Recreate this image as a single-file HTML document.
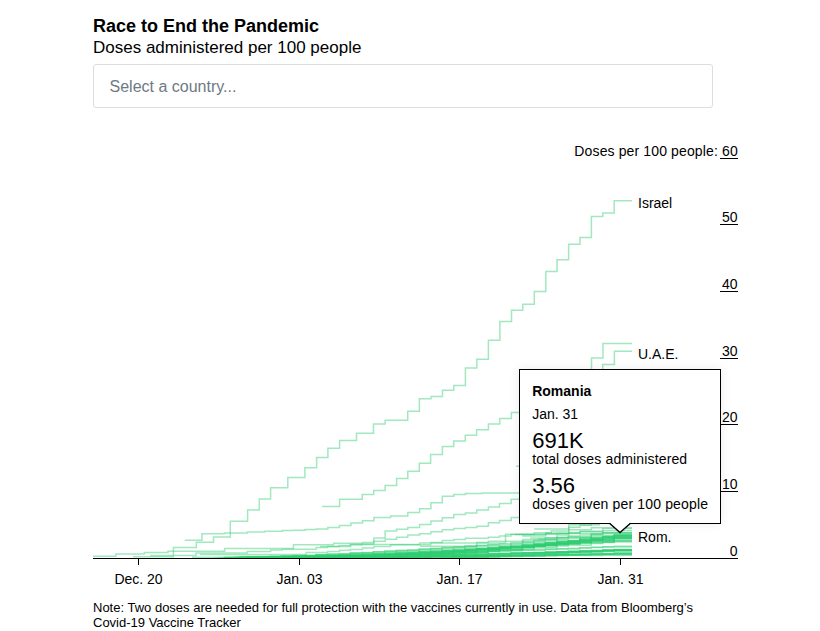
<!DOCTYPE html>
<html><head><meta charset="utf-8">
<style>
html,body{margin:0;padding:0;background:#fff;width:820px;height:631px;overflow:hidden;}
body{font-family:"Liberation Sans",sans-serif;color:#000;position:relative;}
.t{position:absolute;white-space:nowrap;}
#title{left:93px;top:17.3px;font-size:18px;line-height:18px;font-weight:700;}
#sub{left:93px;top:38.6px;font-size:17px;line-height:17px;}
#sel{position:absolute;left:93px;top:64px;width:618px;height:42px;border:1px solid #dcdde2;border-radius:3px;}
#selt{left:109.5px;top:78.5px;font-size:16px;line-height:16px;color:#6d7984;}
.yl{position:absolute;font-size:14px;line-height:14px;white-space:nowrap;text-align:right;right:82.5px;}
.tk{position:absolute;left:720px;width:18px;height:1px;background:#000;}
#axis{position:absolute;left:93px;top:558px;width:645px;height:1px;background:#000;}
.xt{position:absolute;top:558px;width:1px;height:7px;background:#000;}
.xl{position:absolute;top:571.8px;font-size:14px;line-height:14px;width:80px;text-align:center;}
#note{left:93px;top:600.3px;font-size:13px;line-height:15px;}
svg{position:absolute;left:0;top:0;}
#tip{position:absolute;left:519px;top:369px;width:200px;height:153px;border:1px solid #000;background:#fff;box-shadow:0 0 10px rgba(0,0,0,0.08);}
.tp{position:absolute;white-space:nowrap;left:12.2px;}
</style></head><body>
<div class="t" id="title">Race to End the Pandemic</div>
<div class="t" id="sub">Doses administered per 100 people</div>
<div id="sel"></div>
<div class="t" id="selt">Select a country...</div>

<div class="yl" style="top:144.2px;letter-spacing:0.13px;right:82.2px">Doses per 100 people: 60</div>
<div class="tk" style="top:158px"></div>
<div class="yl" style="top:209.5px">50</div>
<div class="tk" style="top:224px"></div>
<div class="yl" style="top:277.2px">40</div>
<div class="tk" style="top:291px"></div>
<div class="yl" style="top:344px">30</div>
<div class="tk" style="top:358px"></div>
<div class="yl" style="top:409.5px">20</div>
<div class="tk" style="top:424px"></div>
<div class="yl" style="top:477.2px">10</div>
<div class="tk" style="top:491px"></div>
<div class="yl" style="top:544px">0</div>

<svg width="820" height="631" id="chart">
<g fill="none" stroke="#2ecc71" stroke-opacity="0.45" stroke-width="1.5">
<path d="M227.2,557.6H235.5V557.4H247.0V557.1H258.4V556.8H281.4V555.9H292.9V555.5H315.8V554.5H327.3V554.0H350.3V552.9H373.2V551.7H384.7V551.1H396.2V550.5H419.1V549.2H430.6V548.5H442.1V547.8H453.5V547.2H465.0V546.5H476.5V545.7H488.0V545.0H510.9V543.5H522.4V542.8H533.9V542.0H556.8V540.4H579.8V538.8H591.2V538.0H602.7V537.2H614.2V536.4H632.0"/>
<path d="M267.0,557.8H269.9V557.6H292.9V557.1H304.3V556.7H315.8V556.3H327.3V555.9H338.8V555.5H350.3V555.0H361.7V554.6H373.2V554.1H384.7V553.5H396.2V553.0H407.6V552.5H419.1V551.9H430.6V551.3H442.1V550.7H453.5V550.1H465.0V549.5H476.5V548.9H499.4V547.6H510.9V547.0H522.4V546.3H533.9V545.6H545.3V544.9H568.3V543.5H579.8V542.8H591.2V542.1H602.7V541.3H614.2V540.6H632.0"/>
<path d="M307.0,557.7H315.8V557.6H327.3V557.4H338.8V557.2H350.3V556.9H361.7V556.5H384.7V555.7H396.2V555.3H407.6V554.8H419.1V554.3H430.6V553.7H442.1V553.2H453.5V552.6H465.0V552.0H488.0V550.6H499.4V549.9H510.9V549.2H533.9V547.7H556.8V546.1H568.3V545.3H591.2V543.5H602.7V542.6H614.2V541.7H632.0"/>
<path d="M280.9,557.8H281.4V557.7H292.9V557.6H304.3V557.5H315.8V557.3H327.3V557.0H338.8V556.7H350.3V556.3H361.7V555.9H373.2V555.4H384.7V554.9H396.2V554.3H407.6V553.7H419.1V553.0H430.6V552.3H442.1V551.5H465.0V549.9H476.5V549.0H488.0V548.1H499.4V547.1H510.9V546.1H522.4V545.0H533.9V543.9H545.3V542.8H556.8V541.6H579.8V539.1H591.2V537.8H602.7V536.4H614.2V535.0H632.0"/>
<path d="M271.8,558.2H281.4V558.1H304.3V557.7H327.3V557.1H338.8V556.7H350.3V556.3H361.7V555.8H384.7V554.8H407.6V553.6H419.1V553.0H442.1V551.6H453.5V550.9H476.5V549.3H488.0V548.5H499.4V547.6H522.4V545.8H533.9V544.9H545.3V543.9H556.8V542.9H579.8V540.8H591.2V539.7H602.7V538.6H614.2V537.5H632.0"/>
<path d="M218.4,558.0H224.0V557.8H235.5V557.6H247.0V557.3H269.9V556.6H281.4V556.2H292.9V555.7H315.8V554.7H327.3V554.2H350.3V553.1H361.7V552.5H373.2V551.8H384.7V551.2H396.2V550.5H407.6V549.8H419.1V549.1H430.6V548.4H442.1V547.6H453.5V546.9H465.0V546.1H476.5V545.3H488.0V544.5H499.4V543.7H510.9V542.8H522.4V542.0H533.9V541.1H545.3V540.2H556.8V539.3H568.3V538.4H579.8V537.5H591.2V536.5H614.2V534.6H632.0"/>
<path d="M246.7,557.6H247.0V557.6H258.4V557.5H269.9V557.4H281.4V557.3H292.9V557.1H304.3V556.8H315.8V556.6H327.3V556.2H338.8V555.9H350.3V555.5H361.7V555.0H373.2V554.6H384.7V554.1H396.2V553.5H407.6V552.9H419.1V552.3H442.1V550.9H453.5V550.2H465.0V549.4H476.5V548.6H488.0V547.8H499.4V546.9H510.9V546.0H522.4V545.1H533.9V544.1H545.3V543.1H556.8V542.1H568.3V541.0H579.8V539.9H591.2V538.7H602.7V537.6H614.2V536.3H632.0"/>
<path d="M362.9,557.5H373.2V557.0H384.7V556.5H396.2V555.9H407.6V555.2H419.1V554.4H430.6V553.6H453.5V551.8H476.5V549.9H488.0V548.8H499.4V547.8H510.9V546.7H522.4V545.5H533.9V544.4H545.3V543.2H556.8V541.9H568.3V540.7H579.8V539.4H591.2V538.1H602.7V536.8H614.2V535.4H632.0"/>
<path d="M223.6,557.4H224.0V557.4H235.5V557.2H247.0V557.0H258.4V556.8H269.9V556.5H281.4V556.1H292.9V555.8H304.3V555.4H315.8V555.0H338.8V554.1H350.3V553.6H361.7V553.1H384.7V552.0H396.2V551.5H407.6V550.9H419.1V550.3H430.6V549.6H442.1V549.0H453.5V548.3H465.0V547.7H476.5V547.0H488.0V546.3H510.9V544.8H522.4V544.1H533.9V543.3H545.3V542.5H556.8V541.7H568.3V540.9H579.8V540.1H591.2V539.3H602.7V538.4H614.2V537.5H632.0"/>
<path d="M292.2,557.6H292.9V557.6H304.3V557.4H315.8V557.2H327.3V556.9H338.8V556.6H350.3V556.2H361.7V555.8H373.2V555.3H384.7V554.8H396.2V554.3H407.6V553.7H430.6V552.5H453.5V551.1H465.0V550.4H488.0V548.9H499.4V548.1H522.4V546.4H533.9V545.6H545.3V544.7H556.8V543.8H568.3V542.8H579.8V541.9H591.2V540.9H614.2V538.9H632.0"/>
<path d="M239.5,557.3H247.0V557.3H258.4V557.2H269.9V557.1H281.4V556.9H292.9V556.7H304.3V556.5H315.8V556.3H327.3V556.1H338.8V555.8H350.3V555.6H361.7V555.3H384.7V554.7H396.2V554.4H407.6V554.1H430.6V553.4H442.1V553.0H453.5V552.7H465.0V552.3H488.0V551.5H499.4V551.1H510.9V550.7H522.4V550.2H545.3V549.4H556.8V548.9H579.8V548.0H591.2V547.5H602.7V547.0H632.0"/>
<path d="M364.1,557.5H373.2V557.2H396.2V556.3H407.6V555.7H419.1V555.1H430.6V554.4H453.5V552.9H476.5V551.2H488.0V550.2H499.4V549.3H522.4V547.3H533.9V546.2H545.3V545.1H556.8V544.0H579.8V541.7H591.2V540.5H614.2V538.0H632.0"/>
<path d="M261.0,557.7H269.9V557.7H281.4V557.6H304.3V557.3H315.8V557.0H327.3V556.8H350.3V556.1H361.7V555.7H384.7V554.8H396.2V554.3H407.6V553.8H419.1V553.2H430.6V552.6H442.1V552.0H453.5V551.3H465.0V550.6H476.5V549.8H499.4V548.2H510.9V547.4H533.9V545.6H545.3V544.7H556.8V543.7H568.3V542.7H579.8V541.6H591.2V540.5H614.2V538.3H632.0"/>
<path d="M289.1,557.5H292.9V557.4H304.3V557.2H315.8V556.9H327.3V556.6H338.8V556.2H350.3V555.8H361.7V555.3H373.2V554.8H384.7V554.3H396.2V553.7H419.1V552.5H442.1V551.1H465.0V549.7H476.5V548.9H488.0V548.1H499.4V547.3H522.4V545.6H533.9V544.7H545.3V543.8H556.8V542.9H568.3V541.9H579.8V540.9H591.2V539.9H602.7V538.9H614.2V537.9H632.0"/>
<path d="M373.1,557.3H373.2V557.3H384.7V557.1H396.2V556.7H407.6V556.2H419.1V555.7H442.1V554.4H453.5V553.6H465.0V552.7H476.5V551.8H488.0V550.9H499.4V549.8H522.4V547.6H533.9V546.4H556.8V543.8H568.3V542.5H591.2V539.6H614.2V536.6H632.0"/>
<path d="M305.4,557.8H315.8V557.7H327.3V557.5H338.8V557.2H350.3V556.9H361.7V556.5H373.2V556.1H384.7V555.6H407.6V554.4H419.1V553.8H430.6V553.1H453.5V551.6H465.0V550.7H476.5V549.9H488.0V548.9H499.4V548.0H510.9V547.0H533.9V544.8H545.3V543.7H556.8V542.5H568.3V541.3H579.8V540.1H591.2V538.8H602.7V537.4H614.2V536.1H632.0"/>
<path d="M241.4,558.3H247.0V558.1H258.4V557.9H281.4V557.4H292.9V557.0H304.3V556.7H315.8V556.3H327.3V555.9H338.8V555.5H350.3V555.0H373.2V554.1H384.7V553.6H396.2V553.1H407.6V552.6H419.1V552.1H430.6V551.5H453.5V550.4H465.0V549.9H476.5V549.3H499.4V548.1H510.9V547.4H522.4V546.8H533.9V546.2H545.3V545.5H556.8V544.9H568.3V544.2H579.8V543.5H591.2V542.9H602.7V542.2H614.2V541.5H632.0"/>
<path d="M213.9,558.2H224.0V558.0H235.5V557.8H247.0V557.6H258.4V557.3H281.4V556.7H304.3V556.0H315.8V555.6H327.3V555.2H338.8V554.8H350.3V554.3H361.7V553.9H373.2V553.4H384.7V552.9H396.2V552.4H419.1V551.4H430.6V550.8H442.1V550.3H453.5V549.7H465.0V549.1H488.0V548.0H499.4V547.3H510.9V546.7H522.4V546.1H533.9V545.4H545.3V544.8H556.8V544.1H568.3V543.4H579.8V542.8H591.2V542.1H614.2V540.6H632.0"/>
<path d="M223.9,557.5H224.0V557.5H235.5V557.4H247.0V557.3H258.4V557.2H269.9V557.0H281.4V556.9H304.3V556.5H327.3V556.1H338.8V555.8H350.3V555.5H361.7V555.3H384.7V554.7H396.2V554.4H407.6V554.0H419.1V553.7H442.1V553.0H453.5V552.6H465.0V552.2H488.0V551.4H499.4V551.0H510.9V550.5H522.4V550.1H533.9V549.6H545.3V549.2H556.8V548.7H568.3V548.2H579.8V547.7H591.2V547.2H602.7V546.7H614.2V546.2H632.0"/>
<path d="M350.2,558.0H350.3V558.0H361.7V557.9H373.2V557.7H384.7V557.4H396.2V557.0H407.6V556.5H419.1V556.0H430.6V555.3H442.1V554.6H453.5V553.9H465.0V553.0H476.5V552.1H488.0V551.1H499.4V550.0H522.4V547.7H533.9V546.4H545.3V545.0H556.8V543.6H568.3V542.1H579.8V540.6H602.7V537.3H614.2V535.6H632.0"/>
<path d="M261.9,558.0H269.9V557.9H281.4V557.8H292.9V557.6H304.3V557.4H315.8V557.1H327.3V556.8H338.8V556.5H350.3V556.1H361.7V555.7H373.2V555.2H384.7V554.7H396.2V554.2H407.6V553.6H419.1V553.1H430.6V552.4H442.1V551.8H465.0V550.4H476.5V549.6H499.4V548.0H510.9V547.2H533.9V545.5H545.3V544.5H556.8V543.6H568.3V542.6H579.8V541.6H591.2V540.6H602.7V539.6H614.2V538.5H632.0"/>
<path d="M327.6,558.3H338.8V558.1H350.3V557.9H373.2V557.5H384.7V557.3H396.2V557.2H407.6V557.0H419.1V556.8H430.6V556.6H442.1V556.4H453.5V556.1H465.0V555.9H476.5V555.7H488.0V555.5H499.4V555.3H522.4V554.8H545.3V554.4H556.8V554.2H568.3V553.9H579.8V553.7H591.2V553.5H614.2V553.0H632.0"/>
<path d="M425.1,557.7H430.6V557.6H442.1V557.4H465.0V556.8H488.0V556.1H499.4V555.6H510.9V555.2H522.4V554.7H533.9V554.1H545.3V553.6H556.8V553.0H568.3V552.4H579.8V551.8H602.7V550.5H614.2V549.8H632.0"/>
<path d="M389.1,558.1H396.2V557.7H407.6V557.3H419.1V556.9H430.6V556.5H453.5V555.7H476.5V554.9H488.0V554.4H499.4V554.0H510.9V553.6H522.4V553.1H533.9V552.7H556.8V551.8H568.3V551.4H579.8V550.9H591.2V550.5H602.7V550.0H614.2V549.6H632.0"/>
<path d="M309.4,557.7H315.8V557.6H327.3V557.6H350.3V557.4H361.7V557.3H373.2V557.2H384.7V557.1H396.2V557.0H407.6V556.9H419.1V556.7H430.6V556.6H453.5V556.3H465.0V556.2H476.5V556.1H488.0V555.9H510.9V555.6H522.4V555.5H533.9V555.3H545.3V555.1H556.8V555.0H568.3V554.8H579.8V554.7H591.2V554.5H602.7V554.3H614.2V554.1H632.0"/>
<path d="M450.4,558.0H453.5V557.8H465.0V557.6H476.5V557.3H488.0V557.0H499.4V556.7H522.4V556.2H533.9V555.9H545.3V555.6H556.8V555.3H579.8V554.7H602.7V554.1H632.0"/>
<path d="M439.6,557.7H442.1V557.6H453.5V557.5H465.0V557.3H476.5V557.1H499.4V556.5H510.9V556.3H522.4V556.0H545.3V555.3H556.8V555.0H568.3V554.6H579.8V554.2H591.2V553.9H614.2V553.1H632.0"/>
<path d="M330.3,557.7H338.8V557.5H350.3V557.4H361.7V557.2H373.2V557.1H384.7V556.9H396.2V556.8H407.6V556.6H430.6V556.3H442.1V556.2H453.5V556.0H465.0V555.8H488.0V555.5H499.4V555.4H510.9V555.2H533.9V554.9H545.3V554.7H556.8V554.5H568.3V554.4H591.2V554.1H614.2V553.7H632.0"/>
<path d="M311.4,557.8H315.8V557.7H327.3V557.6H338.8V557.5H350.3V557.3H361.7V557.1H373.2V556.9H384.7V556.7H396.2V556.4H407.6V556.1H430.6V555.6H442.1V555.3H453.5V555.0H465.0V554.6H476.5V554.3H499.4V553.6H510.9V553.2H522.4V552.9H533.9V552.5H545.3V552.1H556.8V551.7H568.3V551.3H579.8V550.9H591.2V550.4H602.7V550.0H632.0"/>
<path d="M407.7,557.8H419.1V557.5H430.6V557.3H442.1V557.0H453.5V556.7H465.0V556.4H476.5V556.0H499.4V555.3H522.4V554.4H533.9V554.0H545.3V553.5H568.3V552.5H591.2V551.5H602.7V551.0H614.2V550.4H632.0"/>
<path d="M457.6,558.1H465.0V557.5H488.0V556.4H499.4V555.9H510.9V555.3H522.4V554.7H533.9V554.1H545.3V553.5H556.8V552.9H568.3V552.3H579.8V551.8H591.2V551.2H602.7V550.6H632.0"/>
<path d="M318.8,557.9H327.3V557.7H338.8V557.5H361.7V557.0H373.2V556.7H384.7V556.5H407.6V555.9H419.1V555.6H430.6V555.3H442.1V555.0H453.5V554.7H465.0V554.4H476.5V554.1H488.0V553.7H499.4V553.4H510.9V553.1H522.4V552.8H545.3V552.1H556.8V551.7H568.3V551.4H579.8V551.0H591.2V550.7H614.2V550.0H632.0"/>
<path d="M297.9,557.7H304.3V557.6H315.8V557.6H327.3V557.5H338.8V557.5H350.3V557.4H361.7V557.3H373.2V557.2H384.7V557.2H407.6V557.0H419.1V556.9H430.6V556.8H442.1V556.7H453.5V556.6H476.5V556.5H488.0V556.4H499.4V556.3H510.9V556.2H522.4V556.1H533.9V556.0H556.8V555.8H568.3V555.6H579.8V555.5H602.7V555.3H614.2V555.2H632.0"/>
<path d="M369.6,558.3H373.2V558.0H384.7V557.7H396.2V557.3H407.6V557.0H430.6V556.3H453.5V555.5H465.0V555.2H476.5V554.8H488.0V554.4H499.4V554.1H510.9V553.7H522.4V553.3H533.9V552.9H545.3V552.6H556.8V552.2H568.3V551.8H579.8V551.4H591.2V551.0H614.2V550.3H632.0"/>
<path d="M261.2,557.7H269.9V557.6H281.4V557.6H292.9V557.5H304.3V557.4H315.8V557.3H338.8V557.1H361.7V556.9H373.2V556.8H384.7V556.7H396.2V556.6H419.1V556.4H430.6V556.3H442.1V556.2H453.5V556.1H476.5V555.8H488.0V555.7H499.4V555.6H510.9V555.5H533.9V555.2H545.3V555.1H556.8V555.0H568.3V554.9H591.2V554.6H614.2V554.4H632.0"/>
<path d="M521.7,541.5H522.4V541.1H533.9V540.3H545.3V539.3H556.8V538.1H568.3V536.9H591.2V534.2H602.7V532.8H632.0"/>
<path d="M538.1,538.9H545.3V537.8H568.3V535.9H579.8V534.9H591.2V534.0H602.7V533.1H632.0"/>
<path d="M239.4,556.5H247.0V556.4H258.4V556.4H269.9V556.3H292.9V556.2H304.3V556.1H327.3V555.9H338.8V555.8H350.3V555.6H361.7V555.5H373.2V555.4H384.7V555.2H396.2V555.1H407.6V554.9H419.1V554.7H430.6V554.6H442.1V554.4H465.0V554.0H476.5V553.9H488.0V553.7H510.9V553.3H522.4V553.1H533.9V552.8H545.3V552.6H568.3V552.2H579.8V552.0H602.7V551.5H632.0"/>
<path d="M191.9,557.2H201.1V557.2H224.0V557.2H235.5V557.1H258.4V557.0H269.9V557.0H281.4V556.9H292.9V556.8H315.8V556.6H327.3V556.4H338.8V556.3H350.3V556.2H373.2V555.9H384.7V555.7H396.2V555.5H407.6V555.3H419.1V555.1H442.1V554.6H453.5V554.4H465.0V554.2H476.5V553.9H488.0V553.6H510.9V553.0H522.4V552.7H533.9V552.4H556.8V551.8H568.3V551.4H579.8V551.1H602.7V550.3H614.2V549.9H632.0"/>
<path d="M133.0,556.8H173.4V547.4H196.3V542.2H213.5V537.1H230.3V521.2H247.6V510.0H259.3V499.1H270.6V487.7H287.8V477.4H304.9V467.7H316.6V457.4H327.9V448.3H339.6V440.4H356.5V433.3H373.5V423.9H385.1V420.2H407.7V411.3H419.4V398.7H431.0V396.5H442.5V390.3H453.8V385.4H465.4V367.9H476.8V359.3H488.4V340.2H499.9V321.4H511.5V310.3H522.8V304.3H534.3V291.4H545.8V271.6H557.0V259.7H568.6V244.3H580.0V237.4H591.4V216.4H602.8V213.1H614.2V200.7H632.0"/>
<path d="M184.8,540.3H202.0V533.8H224.6V533.0H247.3V532.0H264.9V531.3H282.4V530.6H293.4V530.2H305.1V529.6H316.5V529.0H327.8V527.6H339.5V525.6H350.9V522.9H362.5V520.7H373.9V517.6H390.6V516.1H407.8V512.4H419.6V508.7H430.9V502.7H442.3V496.2H453.8V494.5H465.4V493.5H482.4V493.0H540.0V488.0H580.0V484.0H632.0"/>
<path d="M322.1,506.6H339.6V499.3H362.2V494.6H373.7V490.5H385.1V485.4H396.6V478.5H407.8V471.2H419.3V463.2H430.6V454.4H442.4V446.6H453.7V441.0H465.3V435.3H476.6V429.7H488.4V423.9H499.7V418.4H511.4V412.6H522.9V406.5H534.3V400.5H545.8V394.5H557.2V388.5H568.7V382.5H580.1V376.5H591.5V370.5H602.7V364.6H614.4V351.3H632.0"/>
<path d="M530.0,410.0H545.8V400.0H557.2V392.0H568.7V384.0H580.1V372.0H591.5V358.1H603.0V343.5H632.0"/>
<path d="M93.0,556.3H115.8V554.1H144.3V552.5H168.0V551.3H224.6V548.5H293.4V544.8H333.6V543.2H362.5V542.4H373.9V538.0H385.1V531.0H396.6V529.2H407.8V527.4H419.6V524.5H430.9V521.0H442.3V517.7H453.8V514.6H465.4V512.9H476.8V510.0H488.4V507.0H499.5V503.5H511.1V499.3H540.0V492.0H580.0V485.0H632.0"/>
<path d="M150.0,555.6H196.1V552.9H247.3V551.5H270.7V550.0H282.4V549.2H316.2V547.5H327.6V546.6H339.0V545.6H350.4V544.8H362.5V543.9H373.9V541.2H385.3V539.2H396.6V537.2H407.8V535.1H419.6V533.8H430.9V531.7H442.3V529.7H453.8V528.6H465.4V527.4H476.8V526.2H488.4V522.8H499.5V520.4H511.1V517.4H560.0V510.0H632.0"/>
<path d="M200.0,554.5H306.1V552.6H327.6V551.5H339.7V550.2H350.4V549.5H362.5V547.9H373.9V546.5H390.6V544.8H430.9V542.5H442.3V540.6H453.8V539.4H465.4V538.2H488.4V537.2H499.5V536.0H511.1V534.6H545.8V533.2H580.1V531.2H602.7V528.4H632.0"/>
<path d="M320.0,546.5H350.6V544.4H419.6V543.0H505.5V534.3H557.2V533.6H602.7V533.0H632.0"/>
<path d="M516,466.2H521"/>
<path d="M515,534.5H534.2V532.8H551.2V531H568.8V527.3H580V525.3H591.4V523.2H603"/>
<path d="M522,536H545.8V533.5H568.8V529.7H591.4V527.8H632"/>
<path d="M530,538H557V535H568.8V532.6H580V531.7H603V530.7H632"/>
<path d="M534.2,529H568.8V524.8H600"/>
<path d="M420.0,546.2H476.7V542.6H488.2V541.2H522.9V539.5H557.0V537.2H591.4V535.2H632.0"/>
</g>
</svg>

<div id="axis"></div>
<div class="xt" style="left:138px"></div>
<div class="xt" style="left:299px"></div>
<div class="xt" style="left:459px"></div>
<div class="xt" style="left:620px"></div>
<div class="xl" style="left:98.5px">Dec. 20</div>
<div class="xl" style="left:259.5px">Jan. 03</div>
<div class="xl" style="left:419.5px">Jan. 17</div>
<div class="xl" style="left:580.5px">Jan. 31</div>

<div class="t" style="left:638px;top:196px;font-size:14px;line-height:14px">Israel</div>
<div class="t" style="left:638px;top:347.2px;font-size:14px;line-height:14px">U.A.E.</div>
<div class="t" style="left:638px;top:529.7px;font-size:14px;line-height:14px">Rom.</div>

<div id="tip">
<div class="tp" style="top:14px;font-size:14px;line-height:14px;font-weight:700">Romania</div>
<div class="tp" style="top:37px;font-size:14px;line-height:14px">Jan. 31</div>
<div class="tp" style="top:59.5px;font-size:22px;line-height:22px">691K</div>
<div class="tp" style="top:82px;font-size:14px;line-height:14px;letter-spacing:0.14px">total doses administered</div>
<div class="tp" style="top:104.5px;font-size:22px;line-height:22px">3.56</div>
<div class="tp" style="top:127px;font-size:14px;line-height:14px;letter-spacing:0.15px">doses given per 100 people</div>
</div>
<svg width="820" height="631" style="pointer-events:none">
<rect x="610.5" y="522.5" width="19" height="2" fill="#fff"/>
<polygon points="610.5,523.5 620,532.5 629.5,523.5" fill="#fff"/>
<polyline points="609.8,523.5 620,532.6 630.2,523.5" fill="none" stroke="#000" stroke-width="1.4"/>
</svg>

<div class="t" id="note">Note: Two doses are needed for full protection with the vaccines currently in use. Data from Bloomberg’s<br>Covid-19 Vaccine Tracker</div>
</body></html>
